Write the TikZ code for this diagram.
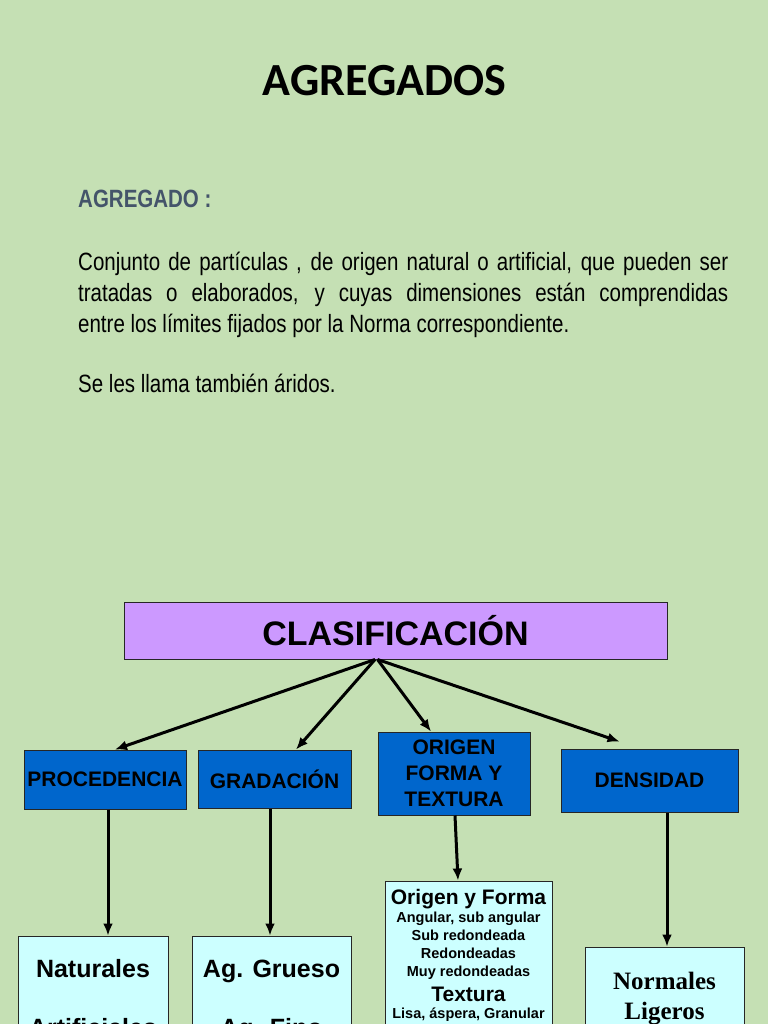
\documentclass[tikz,border=0pt]{standalone}
\usepackage{fontspec}
\setmainfont{Liberation Sans}
\newfontfamily\titlefont{Carlito}
\newfontfamily\narrowfont{Liberation Sans}[FakeStretch=0.82]
\newfontfamily\timesfont{Liberation Serif}
\usetikzlibrary{arrows.meta}
\definecolor{bg}{RGB}{197,224,180}
\definecolor{violetbox}{RGB}{204,153,255}
\definecolor{bluebox}{RGB}{0,102,204}
\definecolor{cyanbox}{RGB}{204,255,255}
\definecolor{slate}{RGB}{68,84,106}
\begin{document}
\begin{tikzpicture}[x=1pt,y=-1pt,
  box/.style={draw=black!85, line width=1pt, inner sep=0pt},
  catbox/.style={box, fill=bluebox, font=\bfseries\fontsize{21}{26}\selectfont, align=center},
  leafbox/.style={box, fill=cyanbox},
  arr/.style={line width=3pt, -{Latex[length=12pt,width=10pt]}},
  txt/.style={inner sep=0pt, anchor=base},
  body/.style={inner sep=0pt, anchor=base west, font=\narrowfont\fontsize{25}{31}\selectfont}
]
\useasboundingbox (0,0) rectangle (768,1024);
\clip (0,0) rectangle (768,1024);
\fill[bg] (0,0) rectangle (768,1024);

% title and text
\node[txt] (title) at (384.5,96) {\titlefont\bfseries\fontsize{46}{46}\selectfont AGREGADOS};
\node[body, text=slate, font=\narrowfont\bfseries\fontsize{25}{31}\selectfont] (def) at (78,208) {AGREGADO :};
\node[body] (l1) at (78,270) {\makebox[650pt][s]{Conjunto de partículas , de origen natural  o artificial, que pueden ser}};
\node[body] (l2) at (78,301) {\makebox[650pt][s]{tratadas o elaborados, y cuyas dimensiones están  comprendidas}};
\node[body] (l3) at (78,332) {entre los límites fijados por la Norma correspondiente.};
\node[body] (l4) at (78,392) {Se les llama también áridos.};

% classification
\node[box, fill=violetbox, minimum width=543pt, minimum height=57pt,
      font=\bfseries\fontsize{34}{34}\selectfont] (cla) at (395.5,630.5) {CLASIFICACIÓN};

\node[catbox, minimum width=162pt, minimum height=59pt] (proc) at (105,779.5) {PROCEDENCIA};
\node[catbox, minimum width=153pt, minimum height=58pt] (grad) at (274.5,779) {GRADACIÓN};
\node[catbox, minimum width=152pt, minimum height=83pt] (orig) at (454,773.5) {ORIGEN\\FORMA Y\\TEXTURA};
\node[catbox, minimum width=177pt, minimum height=63pt] (dens) at (649.5,780.5) {DENSIDAD};

\draw[arr] ([xshift=-20.5pt]cla.south) -- ([xshift=10pt]proc.north);
\draw[arr] ([xshift=-20.5pt]cla.south) -- ([xshift=21.5pt]grad.north);
\draw[arr] ([xshift=-18pt]cla.south) -- ([xshift=-23pt]orig.north);
\draw[arr] ([xshift=-18pt]cla.south) -- ([xshift=-30pt,yshift=7pt]dens.north);

% leaves
\node[leafbox, minimum width=150pt, minimum height=130pt] (nat) at (93,1001) {};
\node[leafbox, minimum width=159pt, minimum height=130pt] (ag) at (271.5,1001) {};
\node[leafbox, minimum width=167pt, minimum height=170pt] (of) at (468.5,966) {};
\node[leafbox, minimum width=159pt, minimum height=120pt] (norm) at (664.5,1007) {};

\draw[arr] ([xshift=3pt]proc.south) -- ([xshift=15pt]nat.north);
\draw[arr] ([xshift=-4.5pt]grad.south) -- ([xshift=-1.5pt]ag.north);
\draw[arr] ([xshift=1pt]orig.south) -- ([xshift=-10.5pt]of.north);
\draw[arr] ([xshift=17.5pt]dens.south) -- ([xshift=2.5pt]norm.north);

\begin{scope}[every node/.style={txt, font=\bfseries\fontsize{25}{25}\selectfont}]
\node (nat1) at (93,977) {Naturales};
\node (nat2) at (93,1036) {Artificiales};
\node (ag1) at (271.5,977) {Ag. Grueso};
\node (ag2) at (271.5,1036) {Ag. Fino};
\end{scope}

\begin{scope}[every node/.style={txt, font=\bfseries\fontsize{14.5}{14.5}\selectfont}]
\node[font=\bfseries\fontsize{21}{21}\selectfont] (of1) at (468.5,904) {Origen y Forma};
\node (of2) at (468.5,922) {Angular, sub angular};
\node (of3) at (468.5,940) {Sub redondeada};
\node (of4) at (468.5,958) {Redondeadas};
\node (of5) at (468.5,976) {Muy redondeadas};
\node[font=\bfseries\fontsize{21}{21}\selectfont] (of6) at (468.5,1001) {Textura};
\node (of7) at (468.5,1018) {Lisa, áspera, Granular};
\end{scope}

\node[txt, font=\timesfont\bfseries\fontsize{25}{25}\selectfont] (n1) at (664.5,989) {Normales};
\node[txt, font=\timesfont\bfseries\fontsize{25}{25}\selectfont] (n2) at (664.5,1019) {Ligeros};
\end{tikzpicture}
\end{document}
